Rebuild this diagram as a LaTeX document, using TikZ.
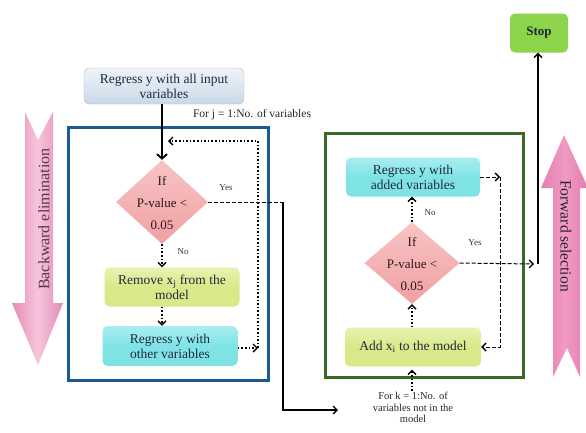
\documentclass[tikz,border=0pt]{standalone}
\usepackage{fontspec}
\setmainfont{Liberation Serif}
\usetikzlibrary{shapes.geometric,arrows.meta}
\definecolor{txt}{HTML}{1E2B3A}
\definecolor{bluefr}{HTML}{1D5A92}
\definecolor{greenfr}{HTML}{3B6B22}
\definecolor{cyanf}{HTML}{7FE3E6}
\definecolor{cyanl}{HTML}{A8EEF0}
\definecolor{ylwf}{HTML}{D9E98A}
\definecolor{ylwl}{HTML}{E8F2B0}
\definecolor{dmd}{HTML}{F0A0A2}
\definecolor{dmdl}{HTML}{F8C4C4}
\definecolor{pinkd}{HTML}{E48AB6}
\definecolor{pinkl}{HTML}{F6C6DC}
\definecolor{pinkr}{HTML}{E57DB0}
\definecolor{pinkrl}{HTML}{F09AC4}
\definecolor{stopf}{HTML}{8CD44A}
\definecolor{topf}{HTML}{C9D9E8}
\definecolor{topl}{HTML}{EEF3F8}
\tikzset{
  boxtext/.style={font=\fontsize{13.5}{15}\selectfont, text=txt, align=center},
  procbox/.style={boxtext, rounded corners=5pt, inner sep=0pt, minimum height=39pt},
  cyanbox/.style={procbox, top color=cyanl, bottom color=cyanf, middle color=cyanf},
  ylwbox/.style={procbox, top color=ylwl, bottom color=ylwf, middle color=ylwf},
  dmdshape/.style={diamond, top color=dmdl, bottom color=dmd, inner sep=0pt, minimum width=92pt, minimum height=84pt},
  dmdtext/.style={font=\fontsize{13}{22}\selectfont, text=txt!80!red!60!black, align=center},
  small/.style={font=\fontsize{9}{9}\selectfont, text=black!80},
  note/.style={font=\fontsize{11.5}{12}\selectfont, text=black!85, align=center},
  dotarr/.style={dotted, line width=1.6pt, -{Straight Barb[length=4pt,width=8pt,line width=1.4pt]}},
  dasharr/.style={dash pattern=on 4pt off 2pt, line width=1pt, -{Straight Barb[length=4pt,width=8pt,line width=1.3pt]}},
  dashline/.style={dash pattern=on 4pt off 2pt, line width=1pt},
  solidarr/.style={line width=1.2pt, -{Straight Barb[length=4pt,width=8pt,line width=1.3pt]}},
}
\begin{document}
\begin{tikzpicture}[x=1pt,y=-1pt]
\useasboundingbox (0,0) rectangle (586,432);
\fill[white] (0,0) rectangle (586,432);

% pink arrows
\shade[left color=pinkd, right color=pinkd, middle color=pinkl]
  (25,112) -- (38,140) -- (53,112) -- (53,303) -- (63,303) -- (38,365) -- (12,303) -- (25,303) -- cycle;
\node[rotate=90, font=\fontsize{16}{17}\selectfont, text=black!50!pinkd!80!black] (bwtext) at (44,219) {Backward elimination};

\shade[left color=pinkr, right color=pinkr, middle color=pinkrl]
  (564,135) -- (588,188) -- (580,188) -- (580,377) -- (567,348) -- (553,377) -- (553,188) -- (541,188) -- cycle;
\node[rotate=-90, font=\fontsize{15.5}{16}\selectfont, text=black!85] (fwtext) at (566,236) {Forward selection};

% frames
\draw[bluefr, line width=3pt] (68,127) rectangle (268,380);
\draw[greenfr, line width=3pt] (325,133) rectangle (523,377);

% top box
\node[procbox, top color=topl, bottom color=topf, draw=topf!85!black, line width=0.4pt,
  minimum width=160pt, minimum height=36pt] (top) at (164,86) {Regress y with all input\\variables};

\node[note] (forj) at (252,115) {For j = 1:No. of variables};

% left column
\node[dmdshape] (d1) at (162,202) {};
\node[dmdtext] (d1t) at (162,203) {If\\P-value <\\0.05};
\node[ylwbox, minimum width=135pt] (rm) at (172,287) {Remove x\textsubscript{j} from the\\model};
\node[cyanbox, minimum width=135pt, minimum height=40pt] (ro) at (170,346) {Regress y with\\other variables};

\node[small] (yes1) at (226,188) {Yes};
\node[small] (no1) at (183,252) {No};

\draw[line width=2pt, -{Straight Barb[length=4.5pt,width=10pt,line width=1.8pt]}] (top.south -| d1.north) -- (d1.north);
\draw[dotarr] (d1.south) -- (d1.south |- rm.north);
\draw[dotarr] (d1.south |- rm.south) -- (d1.south |- ro.north);

\coordinate (lb) at (258,348);
\coordinate (lt) at (258,141);
\coordinate (ltend) at (168,141);
\draw[dotarr] (ro.east |- lb) -- (lb);
\draw[dotarr] (lb) -- (lt) -- (ltend);

% yes path to forward selection
\coordinate (c1) at (283,202);
\coordinate (c2) at (283,410);
\coordinate (c3) at (338,410);
\draw[dashline] (d1.east) -- (c1);
\draw[solidarr] (c1) -- (c2) -- (c3);

% right column
\node[cyanbox, minimum width=134pt] (ra) at (413,177) {Regress y with\\added variables};
\node[dmdshape, minimum width=95pt, minimum height=82pt] (d2) at (412,263) {};
\node[dmdtext] (d2t) at (412,264) {If\\P-value <\\0.05};
\node[ylwbox, minimum width=136pt] (add) at (413,347) {Add x\textsubscript{i} to the model};
\node[procbox, fill=stopf, minimum width=58pt, font=\fontsize{13}{14}\selectfont\bfseries] (stop) at (539,33) {Stop};

\node[small] (no2) at (430,213) {No};
\node[small] (yes2) at (475,243) {Yes};

\node[font=\fontsize{10.5}{11.5}\selectfont, text=black!85, align=center, inner sep=1pt, anchor=north] (fork) at (413,391) {For k = 1:No. of\\variables not in the\\model};

\draw[dotarr] (fork.north -| d2.south) -- ([yshift=-3pt]d2.south |- add.south);
\draw[dotarr] (d2.north) -- (d2.north |- ra.south);
\draw[dotarr] (d2.south |- add.north) -- (d2.south);

\coordinate (rt) at (500,177);
\coordinate (rb) at (500,347);
\draw[dasharr] (ra.east) -- (rt);
\draw[dasharr] (rt) -- (rb) -- (add.east);

\coordinate (sc) at (538,264);
\draw[dasharr] (d2.east) -- ([xshift=-4pt]sc);
\draw[solidarr] (sc) -- (stop.south -| sc);
\end{tikzpicture}
\end{document}
